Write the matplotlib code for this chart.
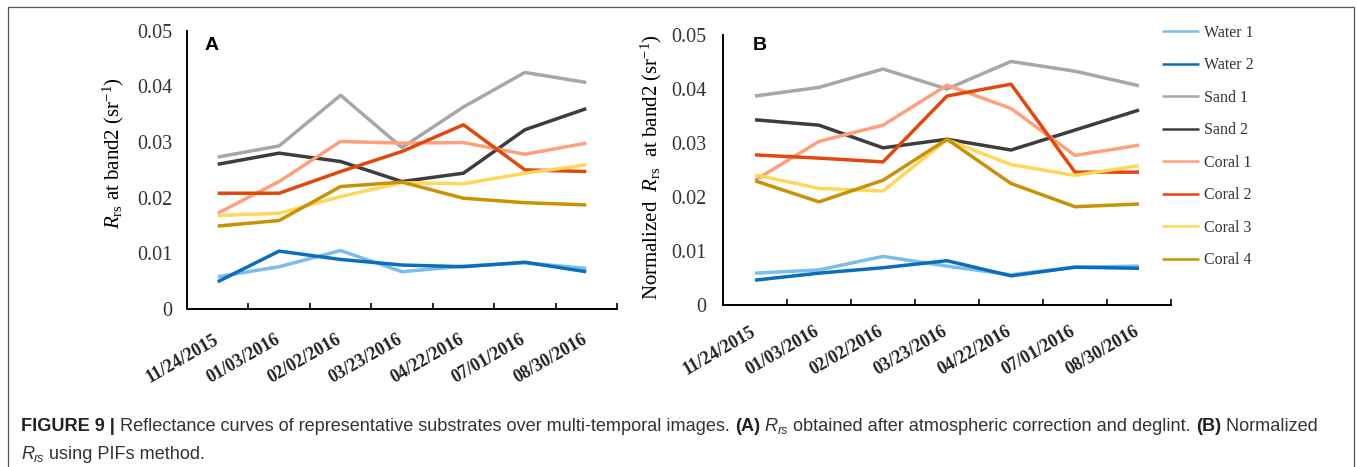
import matplotlib
matplotlib.use("Agg")
import matplotlib.pyplot as plt
from matplotlib.patches import Rectangle
from matplotlib.ticker import FixedLocator, NullFormatter
from matplotlib.transforms import ScaledTranslation

plt.rcParams['mathtext.fontset'] = 'custom'
plt.rcParams['mathtext.rm'] = 'Liberation Serif'
plt.rcParams['mathtext.it'] = 'Liberation Serif:italic'

dates = ["11/24/2015", "01/03/2016", "02/02/2016", "03/23/2016",
         "04/22/2016", "07/01/2016", "08/30/2016"]
series_names = ["Water 1", "Water 2", "Sand 1", "Sand 2",
                "Coral 1", "Coral 2", "Coral 3", "Coral 4"]
colors = ["#7dbde9", "#0a6ebd", "#aaa5a7", "#3d3d3d",
          "#ffa07c", "#e2480c", "#ffd75a", "#c99106"]

# Panel A: Rrs after atmospheric correction and deglint
a_water1 = [0.0058, 0.0076, 0.0105, 0.0067, 0.0077, 0.0083, 0.0073]
a_water2 = [0.0049, 0.0104, 0.0089, 0.0079, 0.0076, 0.0084, 0.0067]
a_sand1 = [0.0273, 0.0293, 0.0384, 0.0290, 0.0363, 0.0425, 0.0407]
a_sand2 = [0.0260, 0.0280, 0.0265, 0.0229, 0.0244, 0.0322, 0.0360]
a_coral1 = [0.0172, 0.0229, 0.0301, 0.0298, 0.0299, 0.0278, 0.0298]
a_coral2 = [0.0208, 0.0208, 0.0247, 0.0283, 0.0331, 0.0250, 0.0247]
a_coral3 = [0.0168, 0.0172, 0.0202, 0.0227, 0.0225, 0.0244, 0.0259]
a_coral4 = [0.0149, 0.0159, 0.0220, 0.0228, 0.0199, 0.0191, 0.0187]

# Panel B: normalized Rrs (PIFs method)
b_water1 = [0.0059, 0.0065, 0.0090, 0.0072, 0.0056, 0.0070, 0.0072]
b_water2 = [0.0046, 0.0059, 0.0069, 0.0082, 0.0054, 0.0070, 0.0068]
b_sand1 = [0.0387, 0.0403, 0.0437, 0.0400, 0.0451, 0.0433, 0.0406]
b_sand2 = [0.0343, 0.0333, 0.0291, 0.0307, 0.0287, 0.0324, 0.0361]
b_coral1 = [0.0231, 0.0303, 0.0333, 0.0407, 0.0364, 0.0277, 0.0296]
b_coral2 = [0.0278, 0.0272, 0.0265, 0.0387, 0.0409, 0.0246, 0.0246]
b_coral3 = [0.0241, 0.0216, 0.0211, 0.0306, 0.0260, 0.0240, 0.0258]
b_coral4 = [0.0230, 0.0191, 0.0231, 0.0307, 0.0225, 0.0182, 0.0187]

panel_a = [a_water1, a_water2, a_sand1, a_sand2, a_coral1, a_coral2, a_coral3, a_coral4]
panel_b = [b_water1, b_water2, b_sand1, b_sand2, b_coral1, b_coral2, b_coral3, b_coral4]
yticks = [0, 0.01, 0.02, 0.03, 0.04, 0.05]
ytick_labels = ["0", "0.01", "0.02", "0.03", "0.04", "0.05"]

W, H = 1357, 467
fig = plt.figure(figsize=(W / 100, H / 100), dpi=100)


def px_axes(l, r, top, bot):
    return fig.add_axes([l / W, 1 - bot / H, (r - l) / W, (bot - top) / H])


ax_a = px_axes(187, 617, 30.7, 309)
ax_b = px_axes(723, 1171, 35, 305)

serif = "Liberation Serif"
x = list(range(len(dates)))

for ax, data, pad, lbl_dy in [(ax_a, panel_a, 10.8, 22), (ax_b, panel_b, 12.2, 18)]:
    for vals, name, c in zip(data, series_names, colors):
        ax.plot(x, vals, color=c, lw=2.5, label=name, solid_capstyle='butt')
    ax.set_xlim(-0.5, len(dates) - 0.5)
    ax.set_ylim(0, 0.05)
    ax.set_yticks(yticks)
    ax.set_yticklabels(ytick_labels, fontfamily=serif, fontsize=14.5, color="#333333")
    ax.tick_params(axis='y', length=0, pad=pad)
    ax.set_xticks(x)
    ax.set_xticklabels([])
    ax.tick_params(axis='x', which='major', length=0)
    ax.xaxis.set_minor_locator(FixedLocator([i + 0.5 for i in range(len(dates))]))
    ax.xaxis.set_minor_formatter(NullFormatter())
    ax.tick_params(axis='x', which='minor', direction='in', length=4, width=1.2)
    # rotated category labels
    off = ScaledTranslation(-5 / 100, -lbl_dy / 100, fig.dpi_scale_trans)
    for xi, d in zip(x, dates):
        ax.text(xi, 0, d, transform=ax.get_xaxis_transform() + off,
                rotation=30, rotation_mode='anchor', ha='right', va='top',
                fontfamily=serif, fontsize=13, fontweight='bold', color="#222222")
    for s in ['top', 'right']:
        ax.spines[s].set_visible(False)
    for s in ['left', 'bottom']:
        ax.spines[s].set_linewidth(1.4)
        ax.spines[s].set_color('black')

fig.text(113 / W, 1 - 153 / H, r'$R_{\mathrm{rs}}$ at band2 (sr$^{\mathrm{-1}}$)',
         rotation=90, ha='center', va='center', fontfamily=serif, fontsize=15)
fig.text(651 / W, 1 - 167 / H, r'Normalized  $R_{\mathrm{rs}}$  at band2 (sr$^{\mathrm{-1}}$)',
         rotation=90, ha='center', va='center', fontfamily=serif, fontsize=15)

fig.text(212 / W, 1 - 45 / H, "A", fontfamily="Liberation Sans", fontweight='bold',
         fontsize=14, ha='center', va='center')
fig.text(760 / W, 1 - 45 / H, "B", fontfamily="Liberation Sans", fontweight='bold',
         fontsize=14, ha='center', va='center')

handles, labels = ax_b.get_legend_handles_labels()
leg = fig.legend(handles, labels, loc='upper left',
                 bbox_to_anchor=(1162 / W, 1 - 25 / H), frameon=False,
                 prop={'family': serif, 'size': 11.5}, handlelength=2.3,
                 handletextpad=0.3, labelspacing=1.03, borderpad=0, borderaxespad=0)
for line in leg.get_lines():
    line.set_linewidth(1.8)
for t in leg.get_texts():
    t.set_color("#333333")

# outer frame
fig.add_artist(Rectangle((8 / W, -0.05), (1354 - 8) / W, 1.05 - 7.5 / H,
                         transform=fig.transFigure, fill=False,
                         edgecolor="#555555", lw=0.9))

# caption
renderer = fig.canvas.get_renderer()


def draw_runs(x0, y0, runs):
    xx = x0
    for text, kw in runs:
        base = dict(fontfamily="Liberation Sans", fontsize=13.1, color="#333333")
        base.update(kw)
        dy = base.pop('dy', 0)
        t = fig.text(xx / W, 1 - (y0 + dy) / H, text, ha='left', va='baseline', **base)
        bb = t.get_window_extent(renderer)
        xx += bb.width


line1 = [
    ("FIGURE 9 |", dict(fontweight='bold', color="#222222")),
    (" Reflectance curves of representative substrates over multi-temporal images. ", {}),
    ("(A)", dict(fontweight='bold', color="#222222")),
    (" ", {}),
    ("R", dict(fontstyle='italic')),
    ("rs", dict(fontstyle='italic', fontsize=9, dy=3.5)),
    (" obtained after atmospheric correction and deglint. ", {}),
    ("(B)", dict(fontweight='bold', color="#222222")),
    (" Normalized", {}),
]
line2 = [
    ("R", dict(fontstyle='italic')),
    ("rs", dict(fontstyle='italic', fontsize=9, dy=3.5)),
    (" using PIFs method.", {}),
]
draw_runs(21, 431, line1)
draw_runs(21, 459, line2)

fig.savefig("out.png", dpi=100)
